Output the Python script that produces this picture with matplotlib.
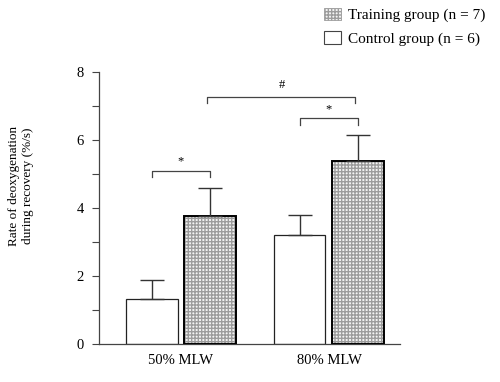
import matplotlib.pyplot as plt
import numpy as np
from matplotlib.patches import Patch

plt.rcParams["font.family"] = ["Liberation Serif", "DejaVu Serif"]
plt.rcParams["hatch.linewidth"] = 1.0

# data
groups = ["50% MLW", "80% MLW"]
control_mean = [1.32, 3.20]
control_sd = [0.56, 0.59]
training_mean = [3.76, 5.38]
training_sd = [0.83, 0.77]
legend_labels = ["Training group (n = 7)", "Control group (n = 6)"]

HATCH = "+++++"
HFACE = "#f4f4f4"
HEDGE = "#9c9c9c"

fig = plt.figure(figsize=(5, 3.82), dpi=100)
ax = fig.add_axes([0.198, 0.0995, 0.602, 0.712])

x = np.arange(1, len(groups) + 1)
off = 0.199
w = 0.351

# control bars (white)
ax.bar(x - off, control_mean, width=w, color="white", edgecolor="#222222",
       linewidth=0.9, zorder=2)
ax.errorbar(x - off, control_mean, yerr=[np.zeros(2), control_sd], fmt="none",
            ecolor="#333333", elinewidth=1, capsize=8.5, capthick=1, zorder=3)

# training bars (grey grid hatch, dark border)
ax.bar(x + off, training_mean, width=w, color=HFACE, edgecolor=HEDGE,
       hatch=HATCH, linewidth=0, zorder=2)
ax.bar(x + off, training_mean, width=w, color="none", edgecolor="black",
       linewidth=1.4, zorder=3)
ax.errorbar(x + off, training_mean, yerr=[np.zeros(2), training_sd], fmt="none",
            ecolor="#333333", elinewidth=1, capsize=8.5, capthick=1, zorder=3)


# significance brackets
def bracket(x0, x1, y, drop, label, ly):
    ax.plot([x0, x0, x1, x1], [y - drop, y, y, y - drop], color="#444444",
            lw=0.9, clip_on=False)
    ax.text((x0 + x1) / 2, ly, label, ha="center", va="center", fontsize=9)


bracket(1 - off, 1 + off, 5.09, 0.18, "*", 5.38)
bracket(2 - off, 2 + off, 6.65, 0.21, "*", 6.9)
bracket(1 + off - 0.02, 2 + off - 0.02, 7.26, 0.17, "#", 7.63)

ax.set_xlim(0.446, 2.48)
ax.set_ylim(0, 8)
ax.set_yticks(range(0, 9))
ax.set_yticklabels([str(v) if v % 2 == 0 else "" for v in range(0, 9)])
ax.set_xticks(x)
ax.set_xticklabels(groups)
ax.tick_params(axis="x", length=0, labelsize=10.5, pad=7)
ax.tick_params(axis="y", length=5, width=0.8, labelsize=10.5, pad=6,
               color="#444444")
for s in ["top", "right"]:
    ax.spines[s].set_visible(False)
for s in ["left", "bottom"]:
    ax.spines[s].set_color("#444444")
    ax.spines[s].set_linewidth(0.9)

ax.set_ylabel("Rate of deoxygenation\nduring recovery (%/s)", fontsize=9.5,
              linespacing=1.2)
ax.yaxis.set_label_coords(-0.216, 0.58)

handles = [
    Patch(facecolor=HFACE, edgecolor=HEDGE, hatch=HATCH, linewidth=0.6),
    Patch(facecolor="white", edgecolor="#444444", linewidth=0.8),
]
fig.legend(handles, legend_labels, loc="upper left",
           bbox_to_anchor=(0.648, 0.98), frameon=False, fontsize=11,
           handlelength=1.1, handleheight=0.85, handletextpad=0.5,
           labelspacing=0.6, borderpad=0, borderaxespad=0)

fig.savefig("out.png", dpi=100)
